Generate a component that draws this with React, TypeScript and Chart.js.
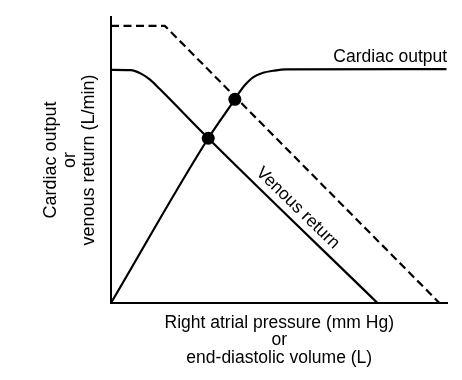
import { useEffect, useRef } from "react";
import { Chart, registerables } from "chart.js";

Chart.register(...registerables);

// Cardiac output curve (arbitrary units, x: 0-100, y: 0-100)
const cardiacX = [0, 28.9, 36.8, 38.3, 39.8, 42.2, 45.2, 48.2, 52.1, 99.7];
const cardiacY = [0, 57.6, 71.2, 73.9, 76.2, 78.9, 80.5, 81.2, 81.7, 81.8];

// Venous return curve
const venousX = [0, 5.9, 8.9, 11.6, 14.5, 28.9, 79.2];
const venousY = [81.5, 81.4, 80.2, 78.1, 74.8, 57.6, 0];

// Shifted (dashed) curve
const dashedX = [0, 16.0, 97.6];
const dashedY = [96.9, 96.9, 0];

// Equilibrium points
const pointX = [28.9, 36.8];
const pointY = [57.6, 71.2];

const xTitle = ["Right atrial pressure (mm Hg)", "or", "end-diastolic volume (L)"];
const yTitle = ["Cardiac output", "or", "venous return (L/min)"];
const cardiacLabel = "Cardiac output";
const venousLabel = "Venous return";
const cardiacLabelAt = [99.9, 84.4];
const venousLabelAt = [55.5, 33.2];

const FONT = '"Liberation Sans", Arial, Helvetica, sans-serif';

const toPts = (xs: number[], ys: number[]) => xs.map((x, i) => ({ x, y: ys[i] }));

const labelPlugin = {
  id: "curveLabels",
  afterDatasetsDraw(chart: any) {
    const { ctx, scales } = chart;
    const xs = scales.x;
    const ys = scales.y;
    ctx.save();
    ctx.fillStyle = "#000";
    ctx.font = `17.5px ${FONT}`;
    ctx.textAlign = "right";
    ctx.textBaseline = "alphabetic";
    ctx.fillText(cardiacLabel, xs.getPixelForValue(cardiacLabelAt[0]), ys.getPixelForValue(cardiacLabelAt[1]));
    const n = venousX.length;
    const x1 = xs.getPixelForValue(venousX[n - 2]);
    const y1 = ys.getPixelForValue(venousY[n - 2]);
    const x2 = xs.getPixelForValue(venousX[n - 1]);
    const y2 = ys.getPixelForValue(venousY[n - 1]);
    const ang = Math.atan2(y2 - y1, x2 - x1);
    ctx.translate(xs.getPixelForValue(venousLabelAt[0]), ys.getPixelForValue(venousLabelAt[1]));
    ctx.rotate(ang);
    ctx.textAlign = "center";
    ctx.textBaseline = "middle";
    ctx.fillText(venousLabel, 0, 0);
    ctx.restore();
  },
};

export default function App() {
  const ref = useRef<HTMLCanvasElement | null>(null);
  useEffect(() => {
    if (!ref.current) return;
    const chart = new Chart(ref.current, {
      type: "scatter",
      data: {
        datasets: [
          {
            data: toPts(dashedX, dashedY),
            showLine: true,
            borderColor: "#000",
            borderWidth: 2.2,
            borderDash: [8, 4.5],
            pointRadius: 0,
            tension: 0,
          },
          {
            data: toPts(cardiacX, cardiacY),
            showLine: true,
            borderColor: "#000",
            borderWidth: 2.2,
            pointRadius: 0,
            cubicInterpolationMode: "monotone",
          },
          {
            data: toPts(venousX, venousY),
            showLine: true,
            borderColor: "#000",
            borderWidth: 2.2,
            pointRadius: 0,
            cubicInterpolationMode: "monotone",
          },
          {
            data: toPts(pointX, pointY),
            showLine: false,
            pointRadius: 6.5,
            pointBackgroundColor: "#000",
            pointBorderColor: "#000",
            pointBorderWidth: 0,
          },
        ],
      } as any,
      options: {
        animation: false,
        responsive: true,
        maintainAspectRatio: false,
        layout: { padding: { top: 9, right: 6, left: 0, bottom: 2.5 } },
        plugins: { legend: { display: false }, tooltip: { enabled: false } },
        scales: {
          x: {
            type: "linear",
            min: 0,
            max: 100,
            ticks: { display: false },
            grid: { display: false, drawTicks: false },
            border: { display: true, color: "#000", width: 2 },
            title: {
              display: true,
              text: xTitle,
              color: "#000",
              font: { family: FONT, size: 17.5, lineHeight: "17.5px" },
              padding: { top: 11, bottom: 3 },
            },
          },
          y: {
            type: "linear",
            min: 0,
            max: 100,
            ticks: { display: false },
            grid: { display: false, drawTicks: false },
            border: { display: true, color: "#000", width: 2 },
            title: {
              display: true,
              text: yTitle,
              color: "#000",
              font: { family: FONT, size: 18, lineHeight: "19px" },
              padding: { top: 34, bottom: 12 },
            },
          },
        },
      } as any,
      plugins: [labelPlugin],
    });
    return () => chart.destroy();
  }, []);
  return (
    <div style={{ width: 446, height: 364, position: "relative" }}>
      <canvas ref={ref} />
    </div>
  );
}
